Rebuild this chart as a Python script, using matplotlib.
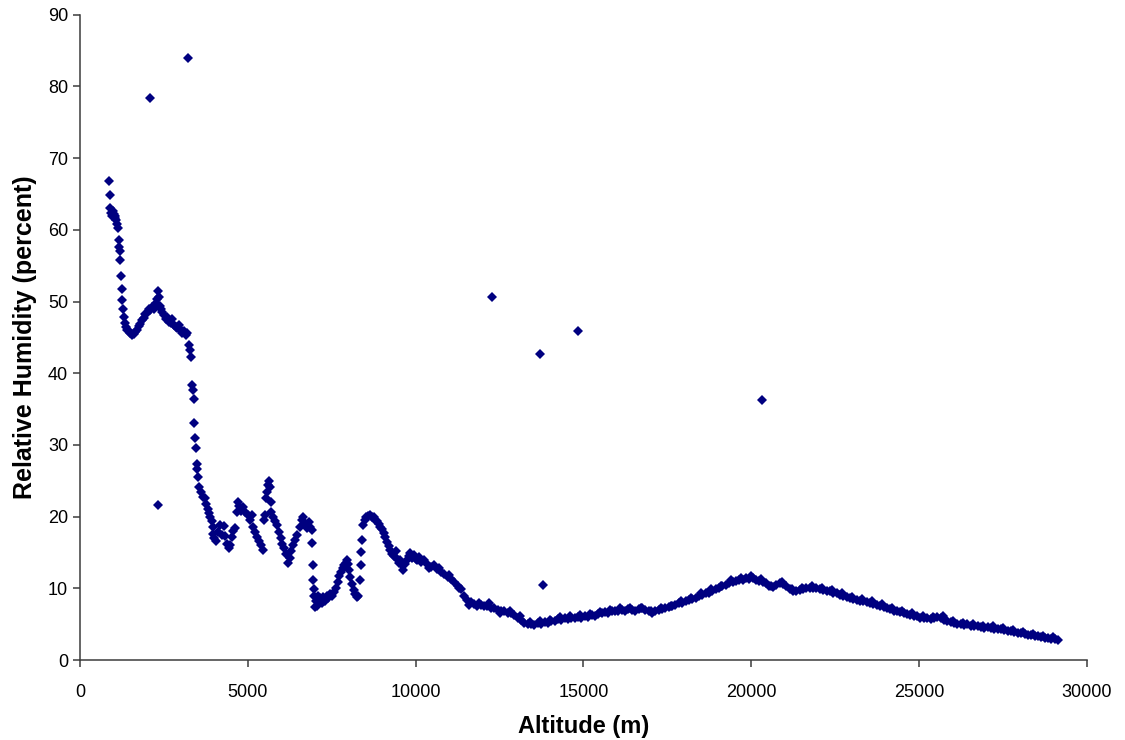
import numpy as np
import matplotlib
matplotlib.use("Agg")
import matplotlib.pyplot as plt

plt.rcParams['font.family'] = ['Liberation Sans', 'DejaVu Sans']

# sounding below ~10 km (altitude m, relative humidity %)
alt_low = [865, 880, 900, 925, 950, 975, 1000, 1030, 1055, 1080, 1100, 1130, 1150, 1170, 1185,
           1200, 1225, 1245, 1265, 1285, 1305, 1330, 1360, 1400, 1450, 1500, 1550, 1600, 1650,
           1700, 1750, 1800, 1850, 1900, 1950, 2000, 2050, 2100, 2150, 2200, 2250, 2280, 2310,
           2340, 2370, 2400, 2450, 2500, 2550, 2600, 2650, 2700, 2750, 2800, 2850, 2900, 2950,
           3000, 3050, 3100, 3150, 3200, 3250, 3280, 3310, 3350, 3370, 3390, 3400, 3420, 3450,
           3480, 3500, 3520, 3560, 3620, 3670, 3720, 3760, 3800, 3850, 3880, 3920, 3950, 3970,
           4000, 4050, 4120, 4170, 4230, 4280, 4330, 4380, 4430, 4470, 4520, 4560, 4620, 4680,
           4710, 4750, 4800, 4870, 4930, 5000, 5070, 5120, 5160, 5220, 5280, 5340, 5400, 5440,
           5470, 5500, 5530, 5560, 5590, 5620, 5650, 5680, 5700, 5750, 5800, 5870, 5930, 5980,
           6030, 6090, 6150, 6200, 6250, 6300, 6350, 6420, 6480, 6540, 6600, 6650, 6700, 6760,
           6820, 6860, 6900, 6920, 6940, 6950, 6960, 6980, 7010, 7040, 7070, 7100, 7130, 7160,
           7200, 7250, 7300, 7350, 7400, 7450, 7500, 7560, 7620, 7680, 7730, 7780, 7830, 7880,
           7920, 7960, 7990, 8020, 8050, 8100, 8150, 8200, 8250, 8290, 8330, 8360, 8380, 8400,
           8440, 8480, 8530, 8580, 8650, 8700, 8750, 8800, 8850, 8900, 8950, 9000, 9050, 9100,
           9150, 9200, 9250, 9300, 9350, 9400, 9450, 9500, 9540, 9590, 9630, 9680, 9730, 9790,
           9840, 9900, 9950, 10000]
rh_low = [66.8, 64.9, 63.0, 62.4, 61.9, 62.6, 62.2, 61.7, 62.0, 61.4, 60.8, 60.2, 58.6, 57.6, 57.0,
          55.8, 53.5, 51.7, 50.2, 48.9, 47.8, 47.0, 46.5, 46.1, 45.9, 45.6, 45.3, 45.5, 45.8,
          46.1, 46.6, 46.9, 47.4, 47.7, 48.2, 48.4, 48.9, 48.8, 49.3, 49.0, 49.8, 50.4, 51.5,
          50.6, 49.4, 48.9, 48.5, 48.1, 47.6, 47.9, 47.2, 47.0, 47.6, 46.8, 46.4, 46.3, 46.7,
          46.0, 45.6, 45.9, 45.3, 45.6, 43.9, 43.2, 42.3, 38.4, 37.6, 36.4, 33.1, 31.0, 29.6,
          27.3, 26.6, 25.6, 24.2, 23.4, 22.8, 22.6, 21.8, 21.1, 20.5, 20.0, 19.4, 18.6, 17.6,
          17.0, 16.6, 17.8, 18.9, 17.4, 18.7, 17.3, 16.2, 15.6, 16.0, 17.2, 18.0, 18.4, 20.6,
          22.0, 21.5, 20.8, 21.3, 20.6, 20.3, 19.6, 20.2, 18.6, 17.9, 17.2, 16.6, 16.0, 15.3,
          19.6, 20.3, 22.6, 23.5, 24.4, 25.0, 24.2, 22.1, 20.6, 20.0, 19.4, 18.8, 17.8, 17.0,
          16.2, 15.6, 14.8, 13.6, 14.3, 15.2, 16.0, 16.7, 17.4, 18.6, 19.5, 19.9, 19.0, 18.4,
          19.2, 18.6, 18.2, 16.3, 13.3, 11.2, 9.9, 8.9, 7.4, 8.2, 7.6, 9.0, 8.2, 8.6,
          7.9, 8.8, 8.3, 9.0, 8.7, 9.2, 8.9, 9.5, 10.0, 10.9, 11.7, 12.3, 12.9, 13.3,
          13.6, 13.9, 13.4, 12.6, 11.6, 10.6, 9.8, 9.2, 8.8, 9.0, 11.2, 13.3, 15.1, 16.7,
          18.8, 19.5, 19.9, 20.1, 20.3, 20.0, 19.9, 19.6, 19.4, 19.0, 18.6, 18.3, 17.7, 17.2,
          16.5, 15.9, 15.3, 14.8, 14.5, 15.2, 14.1, 13.6, 13.9, 13.2, 12.6, 13.4, 13.9, 14.5,
          14.9, 14.3, 14.6, 14.1]

# sounding above 10 km
alt_high = [10050, 10150, 10250, 10350, 10450, 10550, 10650, 10750, 10850, 10950,
            11050, 11150, 11250, 11350, 11450, 11540, 11640, 11740, 11840, 11940,
            12040, 12140, 12240, 12340, 12440, 12540, 12640, 12740, 12840, 12940,
            13040, 13140, 13240, 13340, 13440, 13540, 13640, 13740, 13840, 13940,
            14040, 14140, 14240, 14340, 14440, 14540, 14640, 14740, 14840, 14940,
            15040, 15140, 15240, 15340, 15440, 15540, 15640, 15740, 15840, 15940,
            16040, 16140, 16240, 16340, 16440, 16540, 16640, 16740, 16840, 16940,
            17040, 17140, 17240, 17340, 17440, 17540, 17640, 17740, 17840, 17940,
            18040, 18140, 18240, 18340, 18440, 18540, 18640, 18740, 18840, 18940,
            19040, 19140, 19240, 19340, 19440, 19540, 19640, 19740, 19840, 19940,
            20040, 20140, 20240, 20340, 20440, 20540, 20640, 20740, 20840, 20940,
            21040, 21140, 21240, 21340, 21440, 21540, 21640, 21740, 21840, 21940,
            22040, 22140, 22240, 22340, 22440, 22540, 22640, 22740, 22840, 22940,
            23040, 23140, 23240, 23340, 23440, 23540, 23640, 23740, 23840, 23940,
            24040, 24140, 24240, 24340, 24440, 24540, 24640, 24740, 24840, 24940,
            25040, 25140, 25240, 25340, 25440, 25540, 25640, 25740, 25840, 25940,
            26040, 26140, 26240, 26340, 26440, 26540, 26640, 26740, 26840, 26940,
            27040, 27140, 27240, 27340, 27440, 27540, 27640, 27740, 27840, 27940,
            28040, 28140, 28240, 28340, 28440, 28540, 28640, 28740, 28840, 28940,
            29040, 29130]
rh_high = [14.0, 13.7, 13.9, 13.4, 13.0, 13.2, 12.7, 12.3, 12.0, 11.6,
           11.3, 10.9, 10.4, 9.9, 9.0, 8.4, 8.1, 7.8, 7.6, 7.7,
           7.5, 7.6, 7.3, 7.2, 7.0, 6.8, 6.9, 6.6, 6.5, 6.3,
           5.9, 5.6, 5.2, 5.0, 5.1, 4.9, 5.2, 5.1, 5.3, 5.2,
           5.5, 5.4, 5.7, 5.6, 5.8, 5.7, 5.9, 5.8, 6.0, 5.9,
           6.1, 6.0, 6.3, 6.2, 6.4, 6.5, 6.7, 6.6, 6.8, 6.9,
           6.8, 7.0, 6.9, 7.1, 7.0, 6.9, 7.1, 7.2, 7.0, 6.8,
           6.6, 6.8, 7.0, 7.1, 7.3, 7.4, 7.6, 7.7, 7.9, 8.0,
           8.2, 8.4, 8.5, 8.7, 8.9, 9.1, 9.3, 9.4, 9.7, 9.9,
           10.1, 10.3, 10.5, 10.7, 10.9, 11.0, 11.2, 11.1, 11.4, 11.3,
           11.4, 11.2, 11.0, 10.9, 10.7, 10.4, 10.2, 10.5, 10.7, 10.6,
           10.3, 9.9, 9.6, 9.7, 9.8, 9.9, 10.0, 10.1, 10.0, 10.1,
           9.9, 9.8, 9.7, 9.6, 9.4, 9.3, 9.1, 9.0, 8.8, 8.7,
           8.5, 8.4, 8.3, 8.2, 8.1, 8.0, 7.8, 7.7, 7.6, 7.4,
           7.3, 7.1, 6.9, 6.8, 6.7, 6.6, 6.4, 6.3, 6.2, 6.1,
           5.9, 5.8, 5.8, 5.7, 5.9, 6.0, 5.9, 5.6, 5.5, 5.3,
           5.2, 5.1, 5.0, 4.9, 5.0, 4.8, 4.7, 4.8, 4.6, 4.5,
           4.6, 4.5, 4.4, 4.3, 4.3, 4.2, 4.1, 4.0, 3.9, 3.8,
           3.8, 3.7, 3.5, 3.5, 3.4, 3.3, 3.2, 3.1, 3.1, 3.0,
           2.9, 2.8]

# second pass readings above 10 km (scatter around the main band)
alt_high2 = [10100, 10400, 10700, 11000, 11300, 11600, 11900, 12200, 12500, 12800,
             13100, 13400, 13700, 14000, 14300, 14600, 14900, 15200, 15500, 15800,
             16100, 16400, 16700, 17000, 17300, 17600, 17900, 18200, 18500, 18800,
             19100, 19400, 19700, 20000, 20300, 20600, 20900, 21200, 21500, 21800,
             22100, 22400, 22700, 23000, 23300, 23600, 23900, 24200, 24500, 24800,
             25100, 25400, 25700, 26000, 26300, 26600, 26900, 27200, 27500, 27800,
             28100, 28400, 28700, 29000]
rh_high2 = [14.4, 12.9, 12.8, 11.9, 10.0, 7.7, 7.9, 7.9, 6.6, 6.9,
            6.2, 5.3, 5.5, 5.6, 6.0, 6.1, 6.3, 6.4, 6.7, 7.0,
            7.2, 7.3, 7.3, 6.9, 7.3, 7.6, 8.2, 8.7, 9.3, 9.9,
            10.4, 11.1, 11.5, 11.7, 11.3, 10.4, 10.9, 9.9, 10.1, 10.3,
            10.1, 9.8, 9.3, 8.8, 8.5, 8.2, 7.8, 7.3, 6.9, 6.5,
            6.1, 6.0, 6.1, 5.5, 5.2, 5.0, 4.8, 4.7, 4.5, 4.2,
            3.9, 3.7, 3.4, 3.2]

# spurious readings
alt_out = [2090, 3220, 2330, 12260, 13690, 14850, 20310, 13780]
rh_out = [78.4, 84.0, 21.6, 50.6, 42.7, 45.9, 36.3, 10.5]

alt = alt_low + alt_high + alt_high2 + alt_out
rh = rh_low + rh_high + rh_high2 + rh_out

fig = plt.figure(figsize=(11.25, 7.4), dpi=100)
ax = fig.add_axes([0.0711, 0.108, 0.8951, 0.872])
ax.plot(alt, rh, linestyle='none', marker='D', ms=5.6, mew=0, color='#000080')

ax.set_xlim(0, 30000)
ax.set_ylim(0, 90)
ax.set_xticks(np.arange(0, 30001, 5000))
ax.set_yticks(np.arange(0, 91, 10))
ax.spines['top'].set_visible(False)
ax.spines['right'].set_visible(False)
for s in ['left', 'bottom']:
    ax.spines[s].set_color('#3c3c3c')
    ax.spines[s].set_linewidth(1.1)
ax.tick_params(direction='out', length=5, width=1.1, color='#3c3c3c', labelsize=13)
ax.tick_params(axis='x', pad=12)
ax.set_xlabel('Altitude (m)', fontsize=17, fontweight='bold', labelpad=10)
ax.set_ylabel('Relative Humidity (percent)', fontsize=18, fontweight='bold', labelpad=8)

fig.savefig('out.png', dpi=100)
